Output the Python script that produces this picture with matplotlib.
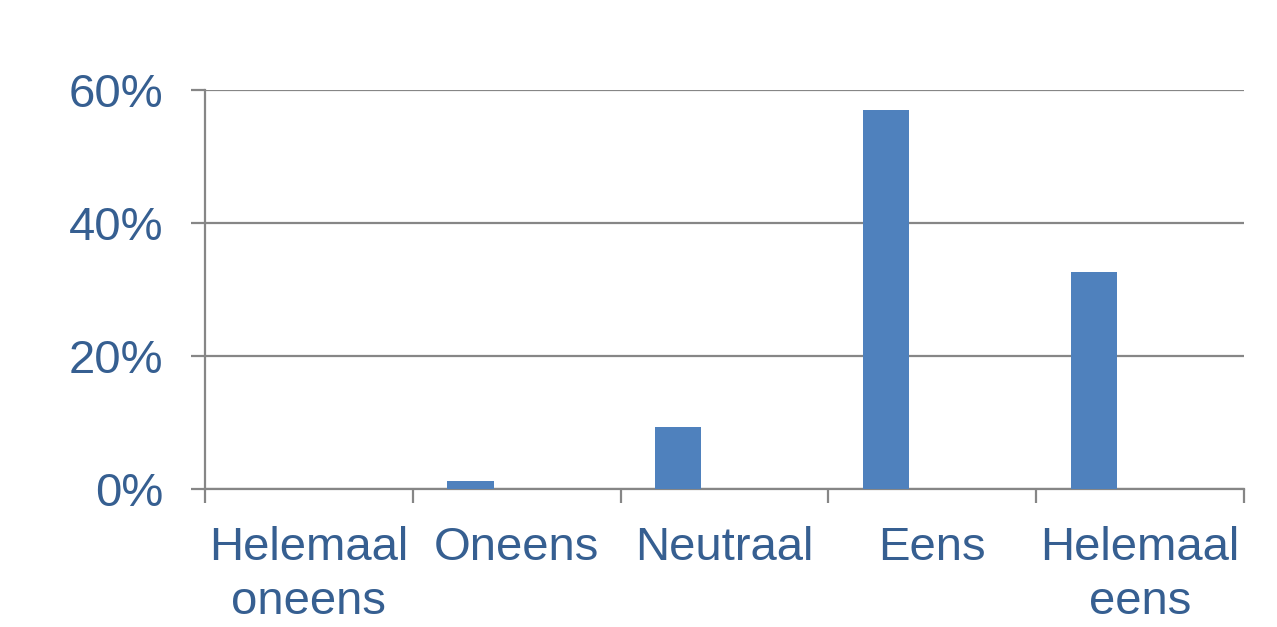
import matplotlib as mpl
import matplotlib.pyplot as plt
import numpy as np

mpl.rcParams["font.family"] = ["Liberation Sans", "DejaVu Sans"]

# data
CATEGORIES = ["Helemaal\noneens", "Oneens", "Neutraal", "Eens", "Helemaal\neens"]
VALUES = [0.0, 1.2, 9.3, 57.0, 32.6]
Y_TICKS = [0, 20, 40, 60]
Y_TICK_LABELS = ["0%", "20%", "40%", "60%"]

BAR_COLOR = "#4F81BD"
TEXT_COLOR = "#365F91"
GRID_COLOR = "#868686"
FONT_SIZE = 34
BAR_WIDTH = 0.222

fig = plt.figure(figsize=(12.77, 6.27), dpi=100)
ax = fig.add_axes([0.1605, 0.2201, 0.8137, 0.6364])

x = np.arange(len(CATEGORIES))
# bar is the first slot of a three-slot cluster (other two series empty)
ax.bar(x - BAR_WIDTH, VALUES, width=BAR_WIDTH, color=BAR_COLOR, zorder=3)

ax.set_xlim(-0.5, len(CATEGORIES) - 0.5)
ax.set_ylim(0, 60)

ax.set_yticks(Y_TICKS)
ax.set_yticklabels(Y_TICK_LABELS, fontsize=FONT_SIZE, color=TEXT_COLOR)
ax.yaxis.grid(True, color=GRID_COLOR, linewidth=1.6, zorder=0)

# major ticks on category boundaries, labels on minor ticks
ax.set_xticks(np.arange(-0.5, len(CATEGORIES), 1.0))
ax.set_xticklabels([])
ax.set_xticks(x, minor=True)
ax.set_xticklabels(CATEGORIES, minor=True, fontsize=FONT_SIZE, color=TEXT_COLOR,
                   linespacing=1.27)

ax.tick_params(axis="x", which="major", length=10, width=1.6, color=GRID_COLOR, direction="out")
ax.tick_params(axis="x", which="minor", length=0, pad=27)
ax.tick_params(axis="y", length=10, width=1.6, color=GRID_COLOR, pad=20)

for s in ["top", "right"]:
    ax.spines[s].set_visible(False)
for s in ["left", "bottom"]:
    ax.spines[s].set_color(GRID_COLOR)
    ax.spines[s].set_linewidth(1.6)

fig.savefig("out.png", dpi=100)
